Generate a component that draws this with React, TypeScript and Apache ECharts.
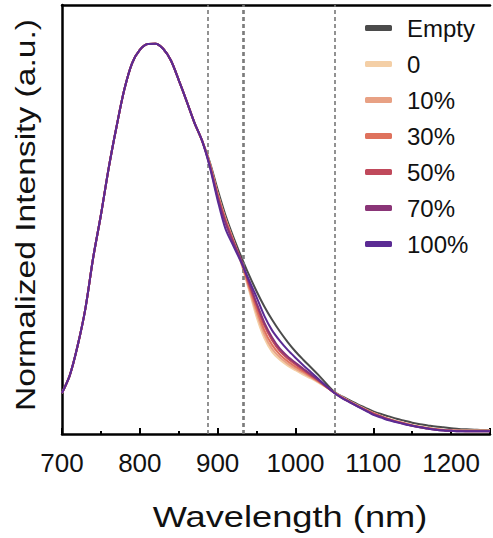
import React, { useEffect, useRef } from "react";
import * as echarts from "echarts";

// Wavelength grid (nm)
const wavelengths = [
  700, 710, 720, 730, 740, 750, 760, 770, 780, 790, 800, 810, 820, 830, 840, 850, 860, 870, 880,
  890, 900, 910, 920, 930, 940, 950, 960, 970, 980, 990, 1000, 1010, 1020, 1030, 1040, 1050,
  1060, 1070, 1080, 1090, 1100, 1110, 1120, 1130, 1140, 1150, 1160, 1170, 1180, 1190, 1200,
  1210, 1220, 1230, 1240, 1250,
];

// Rising edge and peak (700–880 nm), common to all spectra
const riseShared = [
  0.105, 0.15, 0.225, 0.32, 0.45, 0.56, 0.68, 0.785, 0.88, 0.948, 0.982, 0.997, 0.998, 0.985,
  0.955, 0.905, 0.852, 0.797, 0.75,
];

// Falling edge (890–1250 nm) for each spectrum
const tailEmpty = [
  0.695, 0.625, 0.56, 0.505, 0.455, 0.408, 0.365, 0.326, 0.292, 0.262, 0.235, 0.211, 0.19, 0.17,
  0.15, 0.128, 0.108, 0.096, 0.086, 0.076, 0.067, 0.058, 0.051, 0.045, 0.039, 0.034, 0.029,
  0.025, 0.022, 0.019, 0.017, 0.015, 0.013, 0.012, 0.011, 0.01, 0.01,
];
const tail0 = [
  0.69, 0.615, 0.55, 0.495, 0.438, 0.37, 0.3, 0.245, 0.21, 0.19, 0.175, 0.163, 0.152, 0.142,
  0.131, 0.119, 0.106, 0.094, 0.083, 0.073, 0.063, 0.054, 0.046, 0.039, 0.033, 0.028, 0.023,
  0.019, 0.016, 0.013, 0.011, 0.01, 0.009, 0.009, 0.009, 0.009, 0.009,
];
const tail10 = [
  0.69, 0.614, 0.55, 0.496, 0.44, 0.375, 0.31, 0.255, 0.218, 0.196, 0.18, 0.167, 0.156, 0.145,
  0.133, 0.12, 0.106, 0.094, 0.083, 0.072, 0.062, 0.053, 0.045, 0.038, 0.032, 0.027, 0.022,
  0.018, 0.015, 0.012, 0.01, 0.009, 0.008, 0.008, 0.008, 0.008, 0.008,
];
const tail30 = [
  0.69, 0.612, 0.548, 0.495, 0.443, 0.38, 0.32, 0.265, 0.228, 0.203, 0.186, 0.172, 0.16, 0.147,
  0.134, 0.12, 0.106, 0.093, 0.082, 0.072, 0.062, 0.053, 0.045, 0.038, 0.032, 0.027, 0.022,
  0.018, 0.015, 0.012, 0.01, 0.009, 0.008, 0.008, 0.008, 0.008, 0.008,
];
const tail50 = [
  0.688, 0.61, 0.545, 0.492, 0.445, 0.385, 0.33, 0.278, 0.24, 0.212, 0.193, 0.178, 0.164, 0.15,
  0.136, 0.12, 0.105, 0.093, 0.082, 0.071, 0.061, 0.052, 0.044, 0.037, 0.031, 0.026, 0.021,
  0.017, 0.014, 0.012, 0.01, 0.008, 0.008, 0.007, 0.007, 0.007, 0.007,
];
const tail70 = [
  0.685, 0.605, 0.54, 0.49, 0.445, 0.39, 0.335, 0.285, 0.247, 0.218, 0.198, 0.182, 0.167, 0.152,
  0.137, 0.121, 0.105, 0.092, 0.081, 0.071, 0.061, 0.051, 0.044, 0.037, 0.031, 0.026, 0.021,
  0.017, 0.014, 0.011, 0.009, 0.008, 0.007, 0.007, 0.007, 0.007, 0.007,
];
const tail100 = [
  0.682, 0.598, 0.525, 0.482, 0.44, 0.395, 0.35, 0.302, 0.265, 0.238, 0.215, 0.195, 0.176, 0.158,
  0.14, 0.122, 0.105, 0.092, 0.081, 0.07, 0.06, 0.049, 0.042, 0.035, 0.03, 0.025, 0.021, 0.017,
  0.014, 0.011, 0.009, 0.008, 0.007, 0.007, 0.007, 0.007, 0.007,
];

const seriesNames = ["Empty", "0", "10%", "30%", "50%", "70%", "100%"];
const seriesColors = ["#4b4b4b", "#f4cfa6", "#e8a184", "#df725d", "#c0495b", "#8a3577", "#5b2b94"];
const seriesTails = [tailEmpty, tail0, tail10, tail30, tail50, tail70, tail100];

// Dashed reference wavelengths (nm)
const markerLines = [887, 932, 934, 1050];

// Axis range and ticks
const xMin = 700;
const xMax = 1250;
const xInterval = 100;
const yMax = 1.097;

const FONT = "'Liberation Sans', Arial, Helvetica, sans-serif";

export default function App() {
  const ref = useRef<HTMLDivElement>(null);

  useEffect(() => {
    if (!ref.current) return;
    const chart = echarts.init(ref.current, null, { renderer: "svg" });

    const series: any[] = seriesNames.map((name, i) => {
      const values = [...riseShared, ...seriesTails[i]];
      return {
        name,
        type: "line",
        showSymbol: false,
        smooth: 0.3,
        data: wavelengths.map((w, k) => [w, values[k]]),
        lineStyle: { color: seriesColors[i], width: 2 },
        itemStyle: { color: seriesColors[i] },
        z: 2 + i,
      };
    });

    series.push({
      name: "markers",
      type: "line",
      data: [],
      silent: true,
      markLine: {
        silent: true,
        symbol: "none",
        label: { show: false },
        lineStyle: { color: "#777", width: 1.6, type: [4, 3] },
        data: markerLines.map((x) => ({ xAxis: x })),
      },
      z: 1,
    });

    chart.setOption({
      animation: false,
      backgroundColor: "#fff",
      grid: { left: 62, right: -2, top: 5, bottom: 104 },
      legend: {
        data: seriesNames.map((n) => ({ name: n })),
        orient: "vertical",
        left: 360,
        top: 10,
        itemWidth: 27,
        itemHeight: 6,
        itemGap: 10,
        icon: "roundRect",
        textStyle: {
          fontFamily: FONT,
          fontSize: 24,
          lineHeight: 26,
          color: "#111",
          padding: [0, 0, 0, 10],
        },
      },
      xAxis: [
        {
          type: "value",
          min: xMin,
          max: xMax,
          interval: xInterval,
          position: "bottom",
          axisLine: { show: true, onZero: false, lineStyle: { color: "#000", width: 2.5 } },
          axisTick: { show: true, inside: true, length: 6, lineStyle: { color: "#000", width: 2 } },
          minorTick: { show: true, splitNumber: 2, length: 3, lineStyle: { color: "#000", width: 2 } },
          axisLabel: {
            fontFamily: FONT,
            fontSize: 26,
            color: "#111",
            margin: 16,
            formatter: (v: number) => (v > 1200 ? "" : String(v)),
          },
          splitLine: { show: false },
        },
        {
          type: "value",
          min: xMin,
          max: xMax,
          position: "top",
          axisLine: { show: true, onZero: false, lineStyle: { color: "#000", width: 2.5 } },
          axisTick: { show: false },
          axisLabel: { show: false },
          splitLine: { show: false },
        },
      ],
      yAxis: {
        type: "value",
        min: 0,
        max: yMax,
        axisLine: { show: true, onZero: false, lineStyle: { color: "#000", width: 2.5 } },
        axisTick: { show: false },
        axisLabel: { show: false },
        splitLine: { show: false },
      },
      graphic: [
        {
          type: "text",
          x: 290,
          y: 517,
          scaleX: 1.25,
          style: {
            text: "Wavelength (nm)",
            fontFamily: FONT,
            fontSize: 29,
            fill: "#111",
            align: "center",
            verticalAlign: "middle",
          },
        },
        {
          type: "text",
          x: 25,
          y: 215,
          rotation: Math.PI / 2,
          scaleX: 1.2,
          style: {
            text: "Normalized Intensity (a.u.)",
            fontFamily: FONT,
            fontSize: 28,
            fill: "#111",
            align: "center",
            verticalAlign: "middle",
          },
        },
      ],
      series,
    });

    return () => chart.dispose();
  }, []);

  return (
    <div
      ref={ref}
      style={{ position: "fixed", left: 0, top: 0, width: 493, height: 538, background: "#fff" }}
    />
  );
}
